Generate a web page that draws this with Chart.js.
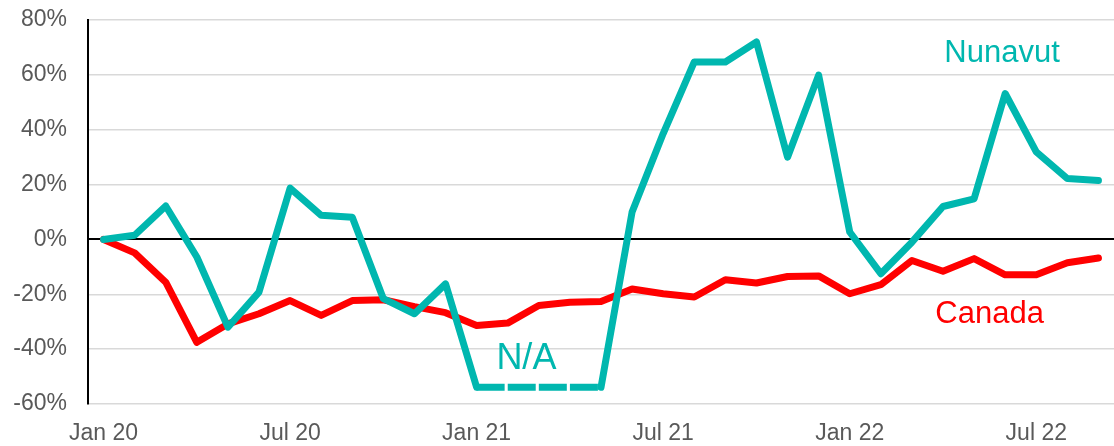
<!DOCTYPE html>
<html>
<head>
<meta charset="utf-8">
<script src="https://cdn.jsdelivr.net/npm/chart.js@4/dist/chart.umd.min.js"></script>
<style>
  html, body { margin: 0; padding: 0; background: #fff; }
  #wrap { width: 1114px; height: 446px; }
</style>
</head>
<body>
<div id="wrap"><canvas id="chart"></canvas></div>
<script>
// months Jan 20 .. Sep 22
const months = ['Jan 20','Feb 20','Mar 20','Apr 20','May 20','Jun 20','Jul 20','Aug 20','Sep 20','Oct 20','Nov 20','Dec 20',
  'Jan 21','Feb 21','Mar 21','Apr 21','May 21','Jun 21','Jul 21','Aug 21','Sep 21','Oct 21','Nov 21','Dec 21',
  'Jan 22','Feb 22','Mar 22','Apr 22','May 22','Jun 22','Jul 22','Aug 22','Sep 22'];

// % change vs Jan 20
const nunavut = [0, 1.5, 12.2, -6.4, -32, -19.2, 18.7, 8.8, 8.1, -21.6, -27.1, -16.2,
  -53.9, -53.9, -53.9, -53.9, -53.9, 10, 38.6, 64.7, 64.7, 72, 30, 59.9,
  2.7, -12.5, -1, 12, 14.8, 53.2, 31.9, 22.2, 21.5];
const canada = [0, -4.9, -15.6, -37.5, -30.8, -27.1, -22.3, -27.7, -22.3, -22, -24.5, -26.7,
  -31.4, -30.5, -24.1, -22.9, -22.6, -18.1, -19.8, -21, -14.7, -15.9, -13.5, -13.3,
  -19.8, -16.5, -7.7, -11.6, -7, -12.9, -12.9, -8.5, -6.8];

// Jan 21 - May 21 has no Nunavut data (drawn dashed)
const naStart = 12, naEnd = 16;

const yTicks = [-60, -40, -20, 0, 20, 40, 60, 80];

const TEAL = '#00B7AF';
const RED = '#FF0000';
const GREY = '#595959';

// text labels on the plot
const labelPlugin = {
  id: 'seriesLabels',
  afterDatasetsDraw(chart) {
    const ctx = chart.ctx;
    const x = chart.scales.x, y = chart.scales.y;
    const items = [
      { text: 'Nunavut', i: 28.9, v: 67.9, color: TEAL, size: 31 },
      { text: 'Canada', i: 28.5, v: -27.2, color: RED, size: 31 },
      { text: 'N/A', i: 13.6, v: -43.5, color: TEAL, size: 36 }
    ];
    ctx.save();
    ctx.textAlign = 'center';
    ctx.textBaseline = 'middle';
    items.forEach(it => {
      ctx.font = it.size + 'px "Liberation Sans", Arial, sans-serif';
      ctx.fillStyle = it.color;
      ctx.fillText(it.text, x.getPixelForValue(it.i), y.getPixelForValue(it.v));
    });
    ctx.restore();
  }
};

const isNA = c => c.p0DataIndex >= naStart && c.p0DataIndex < naEnd;

new Chart(document.getElementById('chart'), {
  type: 'line',
  data: {
    labels: months,
    datasets: [{
      label: 'Nunavut',
      data: nunavut,
      borderColor: TEAL,
      backgroundColor: TEAL,
      borderWidth: 7,
      borderCapStyle: 'round',
      borderJoinStyle: 'round',
      pointRadius: 0,
      tension: 0,
      segment: {
        borderDash: c => (isNA(c) ? [28, 3.09] : undefined),
        borderCapStyle: c => (isNA(c) ? 'butt' : undefined)
      }
    }, {
      label: 'Canada',
      data: canada,
      borderColor: RED,
      backgroundColor: RED,
      borderWidth: 7,
      borderCapStyle: 'round',
      borderJoinStyle: 'round',
      pointRadius: 0,
      tension: 0
    }]
  },
  options: {
    responsive: true,
    maintainAspectRatio: false,
    animation: false,
    layout: { padding: { top: 20, right: 0, bottom: 0, left: 0 } },
    plugins: {
      legend: { display: false },
      tooltip: { enabled: false }
    },
    scales: {
      x: {
        offset: true,
        grid: { display: false, drawTicks: false },
        border: { display: false },
        ticks: {
          autoSkip: false,
          maxRotation: 0,
          padding: 16,
          color: GREY,
          font: { family: '"Liberation Sans", Arial, sans-serif', size: 23 },
          callback: (v, i) => (i % 6 === 0 ? months[i] : '')
        },
        afterFit: s => { s.height = 42; s.paddingLeft = 0; s.paddingRight = 0; }
      },
      y: {
        min: -60,
        max: 80,
        afterBuildTicks: s => { s.ticks = yTicks.map(v => ({ value: v })); },
        grid: {
          drawTicks: false,
          color: c => (c.tick && c.tick.value === 0 ? '#000000' : '#D9D9D9'),
          lineWidth: c => (c.tick && c.tick.value === 0 ? 2 : 1.5)
        },
        border: { display: true, color: '#000000', width: 2 },
        ticks: {
          padding: 21,
          color: GREY,
          font: { family: '"Liberation Sans", Arial, sans-serif', size: 23 },
          callback: v => v + '%'
        },
        afterFit: s => { s.width = 88; s.paddingTop = 0; s.paddingBottom = 0; }
      }
    }
  },
  plugins: [labelPlugin]
});
</script>
</body>
</html>
